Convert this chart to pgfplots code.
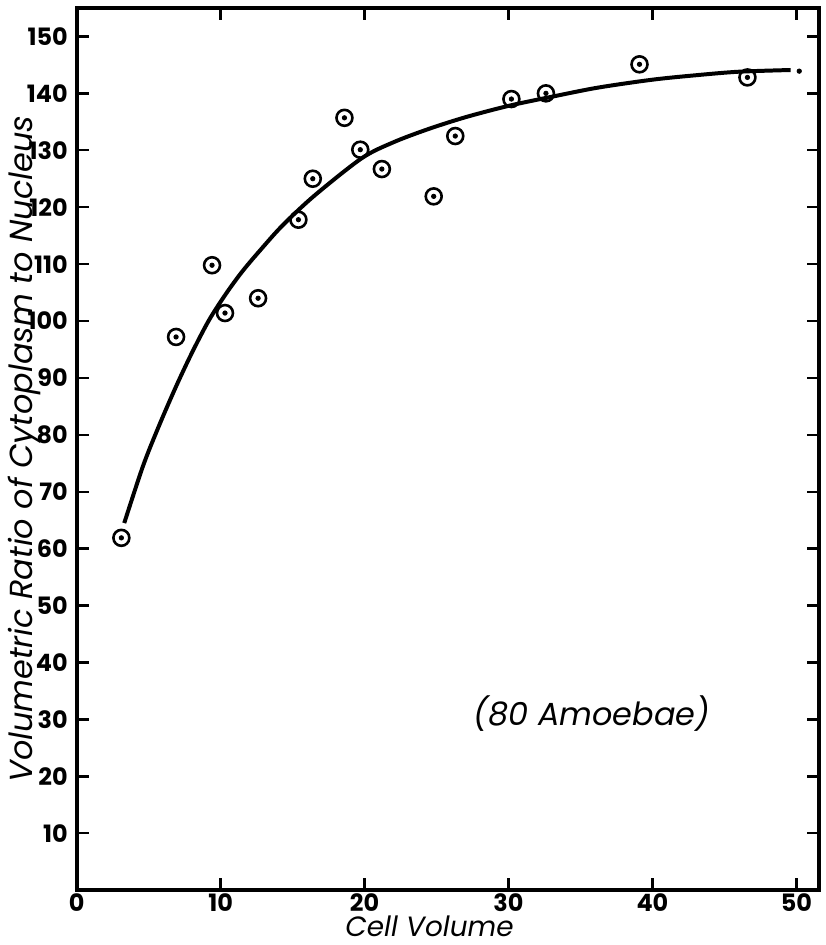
\documentclass[border=0pt]{standalone}
\usepackage{fontspec}
\setmainfont{Poppins}
\usepackage{pgfplots}
\pgfplotsset{compat=1.18}

% observed points (cell volume, cytoplasm/nucleus ratio)
\pgfplotstableread{
x y
3.1 61.9
6.9 97.2
9.4 109.8
10.3 101.4
12.6 104.0
15.4 117.8
16.4 125.0
18.6 135.7
19.7 130.1
21.2 126.7
24.8 121.9
26.3 132.5
30.2 139.0
32.6 140.0
39.1 145.1
46.6 142.8
}\points

% hand-drawn fitted curve
\pgfplotstableread{
x y
3.3 64.5
4.6 74.5
5.7 81.5
6.9 88.5
8.0 94.4
9.2 100.2
10.4 104.9
11.5 108.7
12.7 112.3
14.3 116.8
16.5 122.0
19.8 128.6
22.0 131.4
24.4 133.7
27.0 135.8
30.0 137.8
33.0 139.4
36.2 141.0
40.0 142.4
43.1 143.2
46.0 143.8
49.6 144.1
}\curve

\begin{document}
\begin{tikzpicture}
\begin{axis}[
  scale only axis,
  width=372.5pt, height=442.5pt,
  xmin=0, xmax=51.6, ymin=0, ymax=155,
  xtick={0,10,...,50}, ytick={10,20,...,150},
  axis line style={line width=2pt},
  major tick length=6pt,
  every tick/.style={line width=1.2pt, black},
  tick label style={font=\fontsize{12}{12}\selectfont\bfseries},
  /pgf/number format/assume math mode=true,
  xticklabel style={yshift=0.5pt, inner sep=2pt},
  yticklabel style={xshift=-1pt},
  xlabel={\itshape Cell Volume},
  xlabel style={font=\fontsize{14}{14}\selectfont, inner sep=0pt, at={(axis description cs:0.475,-0.052)}, anchor=base},
  ylabel={\itshape Volumetric Ratio of Cytoplasm to Nucleus},
  ylabel style={font=\fontsize{16}{16}\selectfont, at={(axis description cs:-0.07,0.5)}, anchor=center},
  clip=false,
]
\addplot[black, line width=2pt, smooth] table {\curve};
\addplot[only marks, mark=*, mark size=1.1pt, black] coordinates {(50.2,143.9)};
\addplot[only marks, mark=o, mark size=4pt, mark options={line width=1.3pt}, black] table {\points};
\addplot[only marks, mark=*, mark size=1.1pt, black] table {\points};
\node[font=\fontsize{16}{16}\selectfont\itshape] at (axis cs:35.8,31.1) {(80 Amoebae)};
\end{axis}
\path (current axis.south west) ++(-38.5pt,-27.5pt) coordinate (bl);
\path (current axis.north east) ++(3pt,4pt) coordinate (tr);
\pgfresetboundingbox
\path (bl) rectangle (tr);
\end{tikzpicture}
\end{document}
